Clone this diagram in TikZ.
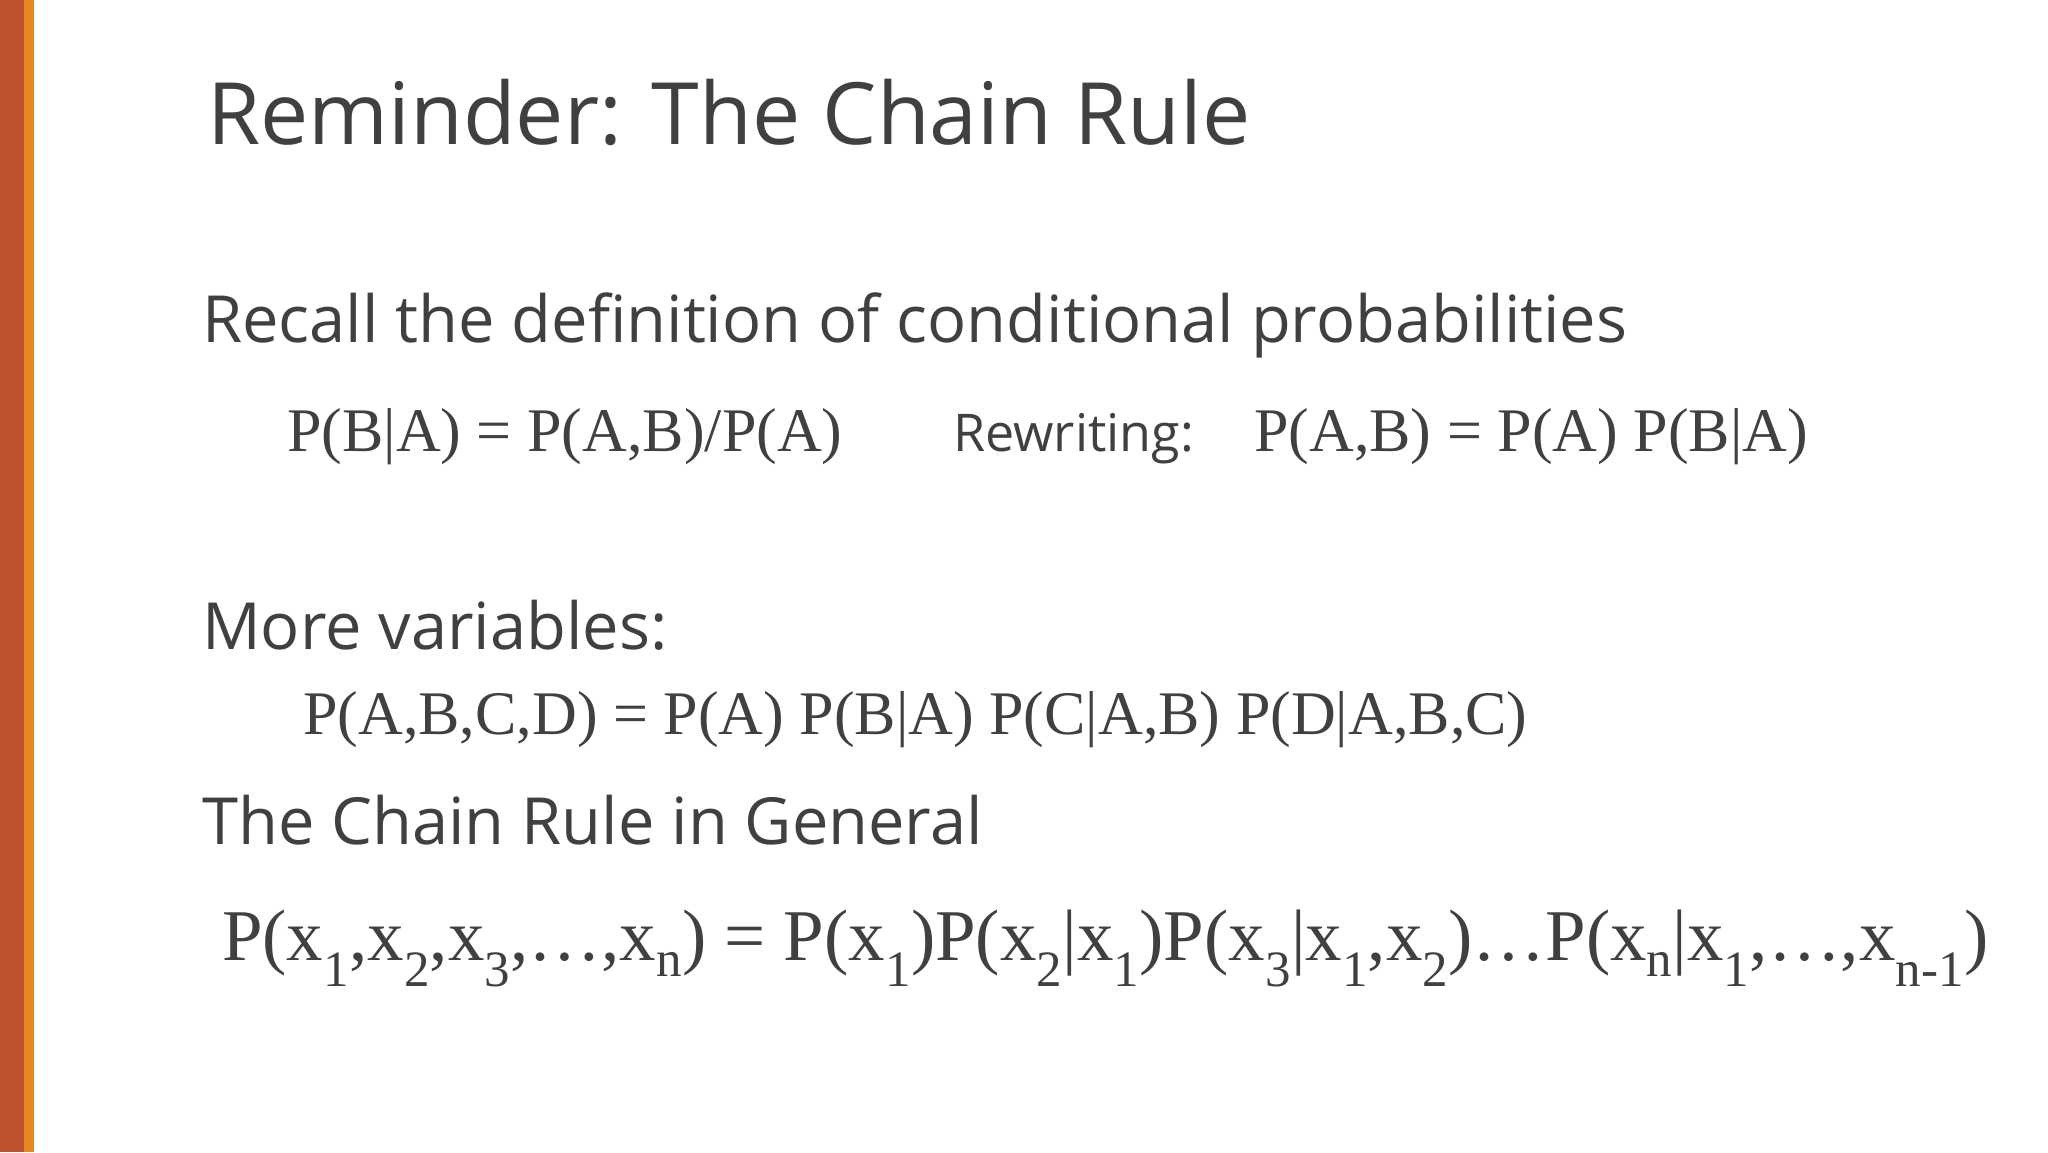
\documentclass[tikz,border=0pt]{standalone}
\usepackage{fontspec}
\setmainfont{Liberation Serif}
\newfontfamily\sans{Open Sans}
\definecolor{txt}{HTML}{404040}
\definecolor{barA}{HTML}{C0532F}
\definecolor{barB}{HTML}{E7861E}
\tikzset{lbl/.style={anchor=base west,inner sep=0pt,text=txt}}
\newcommand{\sub}[1]{\textsubscript{#1}}
\begin{document}
\begin{tikzpicture}[x=1pt,y=-1pt]
\useasboundingbox (0,0) rectangle (2048,1152);
\fill[white] (0,0) rectangle (2048,1152);
\fill[barA] (0,0) rectangle (24,1152);
\fill[barB] (24,0) rectangle (34,1152);
\node[lbl,font=\sans\fontsize{86}{90}\selectfont] (title) at (207,144) {Reminder: The Chain Rule};
\node[lbl,font=\sans\fontsize{65}{70}\selectfont] (recall) at (202,342) {Recall the definition of conditional probabilities};
\node[lbl,font=\fontsize{62}{64}\selectfont] (f1) at (287,451) {P(B|A) = P(A,B)/P(A)};
\node[lbl,font=\sans\fontsize{52}{56}\selectfont] (rw) at (953,451) {Rewriting:};
\node[lbl,font=\fontsize{62}{64}\selectfont] (f2) at (1254,451) {P(A,B) = P(A) P(B|A)};
\node[lbl,font=\sans\fontsize{65}{70}\selectfont] (more) at (202,649) {More variables:};
\node[lbl,font=\fontsize{62}{64}\selectfont] (f3) at (303,734) {P(A,B,C,D) = P(A) P(B|A) P(C|A,B) P(D|A,B,C)};
\node[lbl,font=\sans\fontsize{65}{70}\selectfont] (gen) at (202,844) {The Chain Rule in General};
\node[lbl,font=\fontsize{84}{88}\selectfont] (f4) at (222,960) {\resizebox{1766pt}{!}{P(x\sub{1},x\sub{2},x\sub{3},…,x\sub{n}) = P(x\sub{1})P(x\sub{2}|x\sub{1})P(x\sub{3}|x\sub{1},x\sub{2})…P(x\sub{n}|x\sub{1},…,x\sub{n-1})}};
\end{tikzpicture}
\end{document}
